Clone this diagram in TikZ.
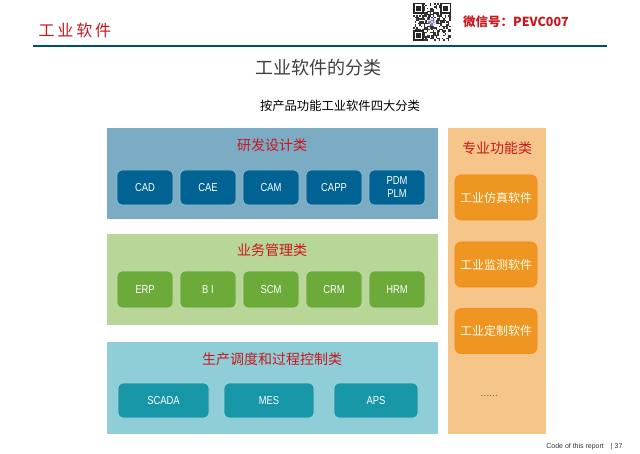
\documentclass[tikz,border=0pt]{standalone}
\usepackage{fontspec}
\setmainfont{Liberation Sans}
\newfontfamily\cjk{Noto Sans CJK SC}
\newfontfamily\cjkwide[LetterSpace=18]{Noto Sans CJK SC}
\newfontfamily\narrow[FakeStretch=0.82]{Liberation Sans}
\usepackage{tikz}
\definecolor{hdred}{RGB}{200,24,30}
\definecolor{hdline}{RGB}{0,78,108}
\definecolor{bluebg}{RGB}{124,171,196}
\definecolor{bluebx}{RGB}{0,99,148}
\definecolor{greenbg}{RGB}{184,214,152}
\definecolor{greenbx}{RGB}{108,170,58}
\definecolor{tealbg}{RGB}{143,206,215}
\definecolor{tealbx}{RGB}{22,150,166}
\definecolor{orangebg}{RGB}{246,197,137}
\definecolor{orangebx}{RGB}{239,149,33}
\tikzset{
  groupbox/.style={minimum width=331, minimum height=91, inner sep=0},
  itembox/.style={draw=white!60!#1, line width=0.6, fill=#1, rounded corners=5,
    text=white, font=\narrow\fontsize{11.5}{13}\selectfont, align=center,
    minimum width=56, minimum height=35, inner sep=0},
  grouptitle/.style={text=hdred, font=\cjk\fontsize{14}{16}\selectfont},
  sidebox/.style={fill=orangebx, draw=orange!40!orangebx, line width=0.6, rounded corners=6,
    text=white!92!yellow, font=\cjk\fontsize{12}{14}\selectfont,
    minimum width=82, minimum height=45, inner sep=0}
}
\begin{document}
\begin{tikzpicture}[x=1pt, y=-1pt]
  \useasboundingbox[fill=white] (0,0) rectangle (640,454);
  % page header
  \node[text=hdred, font=\cjkwide\fontsize{16}{18}\selectfont, anchor=west] (hdtitle) at (35,30) {工业软件};
  \node[text=hdred, font=\cjk\bfseries\fontsize{12.5}{14}\selectfont, anchor=west, inner sep=0] (wechat) at (463,22) {微信号：PEVC007};
  \draw[hdline, line width=2] (33,46) -- (607,46);
  % qr code
  \pgfmathsetseed{37}
  \begin{scope}[shift={(413,3)}]
    \foreach \i in {0,...,24}{\foreach \j in {0,...,24}{%
      \pgfmathrandominteger{\qbit}{0}{1}%
      \ifnum\qbit=1 \fill[black!80] ({\i*1.52},{\j*1.52}) rectangle ++(1.52,1.52);\fi}}
    \foreach \qx/\qy in {0/0, 27.4/0, 0/27.4}{%
      \fill[white] (\qx,\qy) rectangle ++(11,11);
      \fill[black!85] (\qx,\qy) rectangle ++(10.6,10.6);
      \fill[white] ({\qx+1.5},{\qy+1.5}) rectangle ++(7.6,7.6);
      \fill[black!85] ({\qx+3},{\qy+3}) rectangle ++(4.6,4.6);}
    \fill[blue!30, opacity=0.6] (19,19) circle (4);
  \end{scope}
  % titles
  \node[text=black!75, font=\cjk\fontsize{18}{20}\selectfont] (title) at (318,68) {工业软件的分类};
  \node[text=black, font=\cjk\fontsize{12.3}{14}\selectfont] (subtitle) at (340,106) {按产品功能工业软件四大分类};
  % design group
  \node[groupbox, fill=bluebg] (design) at (272.5,173.5) {};
  \node[grouptitle] (designt) at (272,145) {研发设计类};
  \foreach \lbl [count=\k from 0] in {CAD,CAE,CAM,CAPP,PDM\\PLM}
    \node[itembox=bluebx] (design\k) at ({145+63*\k},187.5) {\lbl};
  % business group
  \node[groupbox, fill=greenbg] (business) at (272.5,280) {};
  \node[grouptitle] (businesst) at (272,250) {业务管理类};
  \foreach \lbl [count=\k from 0] in {ERP,B I,SCM,CRM,HRM}
    \node[itembox=greenbx, minimum height=37] (business\k) at ({145+63*\k},289.5) {\lbl};
  % production group
  \node[groupbox, fill=tealbg] (produce) at (272.5,388) {};
  \node[grouptitle] (producet) at (272,359) {生产调度和过程控制类};
  \node[itembox=tealbx, minimum width=91] (produce0) at (163.5,400.5) {SCADA};
  \node[itembox=tealbx, minimum width=90] (produce1) at (269,400.5) {MES};
  \node[itembox=tealbx, minimum width=84] (produce2) at (376,400.5) {APS};
  % special function column
  \node[fill=orangebg, minimum width=98, minimum height=306, inner sep=0] (special) at (497,281) {};
  \node[grouptitle] (specialt) at (497,148) {专业功能类};
  \foreach \lbl/\ypos [count=\k from 0] in {工业仿真软件/197.5,工业监测软件/264.5,工业定制软件/331}
    \node[sidebox] (special\k) at (496,\ypos) {\lbl};
  \node[text=black!70, font=\fontsize{8}{9}\selectfont] (specialmore) at (489,396) {\cjk ……};
  % footer
  \node[text=black!80, font=\fontsize{7}{8}\selectfont, anchor=east] (footer) at (626,447) {Code of this report\quad| 37};
\end{tikzpicture}
\end{document}
